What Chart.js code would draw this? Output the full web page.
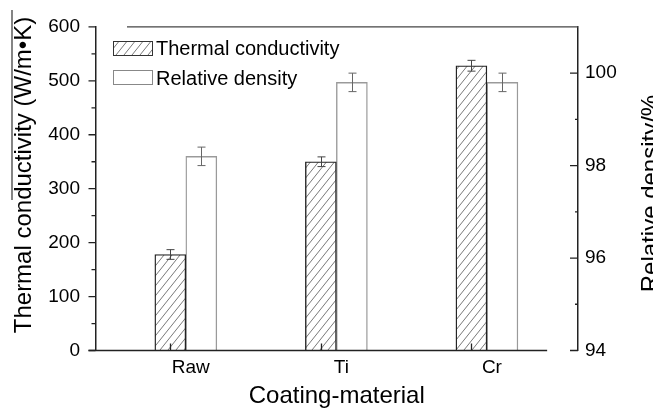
<!DOCTYPE html>
<html><head><meta charset="utf-8">
<script src="https://cdn.jsdelivr.net/npm/chart.js@4.4.1/dist/chart.umd.min.js"></script>
<style>html,body{margin:0;padding:0;background:#fff;}#wrap{width:653px;height:412px;}</style>
</head><body><div id="wrap"><canvas id="c" width="653" height="412"></canvas></div>
<script>
const categories = ['Raw', 'Ti', 'Cr'];
const thermalConductivity = [178, 350, 528];
const thermalError = [9, 9, 10];
const relativeDensity = [98.2, 99.8, 99.8];
const densityError = [0.2, 0.2, 0.2];
const leftTicks = [0, 100, 200, 300, 400, 500, 600];
const rightTicks = [94, 96, 98, 100];
const seriesNames = ['Thermal conductivity', 'Relative density'];
const xTitle = 'Coating-material';
const leftTitle = 'Thermal conductivity (W/m\u2022K)';
const rightTitle = 'Relative density/%';

const FONT = "'Liberation Sans', Arial, sans-serif";
const ctx = document.getElementById('c').getContext('2d');

function makeHatch() {
  const t = document.createElement('canvas');
  t.width = 8; t.height = 10;
  const g = t.getContext('2d');
  g.fillStyle = '#fff'; g.fillRect(0, 0, 8, 10);
  g.strokeStyle = '#6a6a6a'; g.lineWidth = 0.9;
  for (const dx of [-8, 0, 8]) {
    g.beginPath(); g.moveTo(dx - 1, 11.25); g.lineTo(dx + 9, -1.25); g.stroke();
  }
  return ctx.createPattern(t, 'repeat');
}
const hatch = makeHatch();

const X_MIN = -0.6, X_MAX = 2.605, X_LINE_END = 2.4;

const decor = {
  id: 'decor',
  afterDatasetsDraw(chart) {
    const c = chart.ctx, s = chart.scales;
    c.save();
    chart.data.datasets.forEach((ds, di) => {
      const meta = chart.getDatasetMeta(di);
      const ys = s[ds.yAxisID];
      meta.data.forEach((el, i) => {
        const v = ds.data[i].y, e = ds.errors[i];
        const yt = ys.getPixelForValue(v + e), yb = ys.getPixelForValue(v - e);
        const x = Math.round(el.x) + 0.5;
        c.strokeStyle = ds.errColor; c.lineWidth = 1;
        c.beginPath();
        c.moveTo(x, yt); c.lineTo(x, yb);
        c.moveTo(x - 4, yt); c.lineTo(x + 4, yt);
        c.moveTo(x - 4, yb); c.lineTo(x + 4, yb);
        c.stroke();
      });
    });
    c.restore();
  },
  afterDraw(chart) {
    const c = chart.ctx, a = chart.chartArea, s = chart.scales;
    c.save();
    c.strokeStyle = '#222'; c.lineWidth = 1.5;
    c.beginPath();
    c.moveTo(a.left - 7, a.bottom); c.lineTo(s.x.getPixelForValue(X_LINE_END), a.bottom);
    c.stroke();
    c.strokeStyle = '#444'; c.lineWidth = 1.4;
    c.beginPath(); c.moveTo(a.left + 31.5, a.top); c.lineTo(a.right, a.top); c.stroke();
    c.strokeStyle = '#222'; c.lineWidth = 1.3;
    c.beginPath();
    for (let k = 0; k < leftTicks.length; k++) {
      const y = s.y.getPixelForValue(leftTicks[k]);
      c.moveTo(a.left - 7, y); c.lineTo(a.left, y);
      if (k < leftTicks.length - 1) {
        const ym = s.y.getPixelForValue((leftTicks[k] + leftTicks[k + 1]) / 2);
        c.moveTo(a.left - 4, ym); c.lineTo(a.left, ym);
      }
    }
    for (let k = 0; k < rightTicks.length; k++) {
      const y = s.y2.getPixelForValue(rightTicks[k]);
      c.moveTo(a.right - 8, y); c.lineTo(a.right, y);
      if (k < rightTicks.length - 1) {
        const ym = s.y2.getPixelForValue((rightTicks[k] + rightTicks[k + 1]) / 2);
        c.moveTo(a.right - 3, ym); c.lineTo(a.right, ym);
      }
    }
    // x tick marks sit at the centre of the first series' bars (as in the original)
    chart.getDatasetMeta(0).data.forEach(el => {
      const x = Math.round(el.x) + 0.5;
      c.moveTo(x, a.bottom); c.lineTo(x, a.bottom - 7);
    });
    c.stroke();
    chart.data.datasets.forEach((ds, i) => {
      const bx = 113, by = 41 + 29 * i;
      c.fillStyle = ds.backgroundColor;
      c.fillRect(bx, by, 39, 14);
      c.strokeStyle = ds.legendBorder; c.lineWidth = 1;
      c.strokeRect(bx + 0.5, by + 0.5, 39, 14);
      c.fillStyle = '#000';
      c.font = '20px ' + FONT;
      c.textAlign = 'left'; c.textBaseline = 'alphabetic';
      c.fillText(ds.label, 156, 54.5 + 30 * i);
    });
    c.fillStyle = '#000';
    c.font = '24px ' + FONT;
    c.textAlign = 'center'; c.textBaseline = 'alphabetic';
    c.save(); c.translate(31, 175); c.rotate(-Math.PI / 2); c.fillText(leftTitle, 0, 0); c.restore();
    c.save(); c.translate(658, 193.5); c.rotate(-Math.PI / 2); c.fillText(rightTitle, 0, 0); c.restore();
    c.strokeStyle = '#333'; c.lineWidth = 1.2;
    c.beginPath(); c.moveTo(12, 10); c.lineTo(12, 200); c.stroke();
    c.restore();
  }
};

new Chart(ctx, {
  type: 'bar',
  data: {
    datasets: [
      { label: seriesNames[0], data: thermalConductivity.map((v, i) => ({ x: i, y: v })), errors: thermalError,
        yAxisID: 'y', backgroundColor: hatch, borderColor: '#222', borderWidth: 1.4,
        barThickness: 31, errColor: '#444', legendBorder: '#333' },
      { label: seriesNames[1], data: relativeDensity.map((v, i) => ({ x: i, y: v })), errors: densityError,
        yAxisID: 'y2', backgroundColor: '#fff', borderColor: '#9a9a9a', borderWidth: 1.4,
        barThickness: 31, errColor: '#666', legendBorder: '#888' }
    ]
  },
  options: {
    responsive: false, animation: false,
    layout: { padding: { top: 19, left: 0, right: 0, bottom: 0 } },
    plugins: { legend: { display: false }, tooltip: { enabled: false } },
    scales: {
      x: {
        type: 'linear', position: 'bottom', min: X_MIN, max: X_MAX, offset: false,
        afterBuildTicks: sc => { sc.ticks = categories.map((c, i) => ({ value: i })); },
        ticks: { callback: v => categories[v], font: { family: FONT, size: 19 }, color: '#000', padding: 6,
                 maxRotation: 0, autoSkip: false, labelOffset: 5 },
        grid: { display: false, drawTicks: false, offset: false }, border: { display: false },
        title: { display: true, text: xTitle, font: { family: FONT, size: 24 }, color: '#000', padding: { top: 0, bottom: 1 } },
        afterFit: sc => { sc.height = 61.5; }
      },
      y: {
        position: 'left', min: 0, max: 600,
        afterBuildTicks: sc => { sc.ticks = leftTicks.map(v => ({ value: v })); },
        ticks: { font: { family: FONT, size: 19 }, color: '#000', padding: 15.5 },
        grid: { display: false, drawTicks: false }, border: { display: true, color: '#222', width: 1.5 },
        afterFit: sc => { sc.width = 95.5; }
      },
      y2: {
        position: 'right', min: 94, max: 101,
        afterBuildTicks: sc => { sc.ticks = rightTicks.map(v => ({ value: v })); },
        ticks: { font: { family: FONT, size: 19 }, color: '#000', padding: 7 },
        grid: { display: false, drawTicks: false }, border: { display: true, color: '#222', width: 1.5 },
        afterFit: sc => { sc.width = 75; }
      }
    }
  },
  plugins: [decor]
});
</script></body></html>
